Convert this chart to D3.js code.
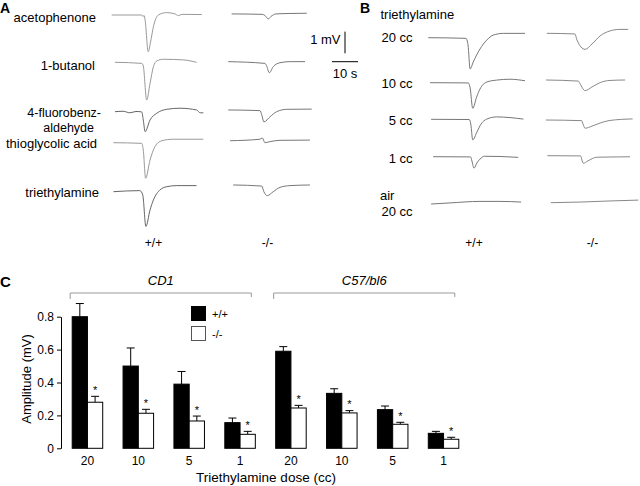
<!DOCTYPE html>
<html><head><meta charset="utf-8">
<script src="https://cdn.jsdelivr.net/npm/d3@7"></script>
<style>
body{margin:0;background:#fff}
svg{display:block}
text{font-family:"Liberation Sans",Arial,Helvetica,sans-serif;fill:#000}
</style>
</head><body>
<svg id="c" width="640" height="486"></svg>
<script>
// ---------------- DATA ----------------
// Panel A: odorant responses (time in s, amplitude in mV relative to baseline)
const odorantsA = ["acetophenone", "1-butanol", "4-fluorobenz-|aldehyde", "thioglycolic acid", "triethylamine"];
const tracesA_WT = [
  [[0.65,0],[12.2,0],[12.6,-0.07],[13.1,-0.02],[13.5,-0.23],[14.7,-1.69],[15.6,-1.24],[16.7,-0.54],[18.6,0],[21.8,0.11],[25,0.05],[26.3,-0.03],[27.6,0.03],[35.3,0.02]],
  [[1.9,0],[12.2,-0.05],[12.8,-0.17],[14.1,-1.74],[15.4,-0.97],[16.7,-0.2],[18,0.06],[20.5,0.14],[28.2,0.11],[33.3,0]],
  [[1.9,0],[5,0.02],[7.7,-0.05],[10,0.01],[12.2,-0.01],[12.8,-0.38],[13.5,-0.92],[15.4,-0.38],[18,-0.07],[21.8,0.11],[26.9,0.16],[33.3,0.08],[34.7,-0.05],[35.9,-0.05]],
  [[1.3,0],[12.2,-0.03],[12.8,-0.34],[13.7,-1.64],[15.4,-0.8],[17.3,-0.18],[19.9,0.09],[24.3,0.16],[35.9,0.16]],
  [[1.3,0],[11.5,0.05],[12.6,-0.15],[13.8,-1.6],[15.4,-0.84],[16.7,-0.38],[19.2,0.08],[21.8,0.23],[25.7,0.28],[33.3,0.28]]
];
const tracesA_KO = [
  [[1.4,0.05],[13.1,0.03],[14.2,-0.02],[15.5,-0.18],[16.5,-0.07],[18.5,0.05],[23.8,0.07],[30.3,0.08]],
  [[0.1,0.03],[14.2,-0.05],[14.8,-0.15],[15.9,-0.48],[17.4,-0.2],[20,-0.02],[23.8,0.03],[29.6,0.03]],
  [[0.1,0.08],[12.3,0.05],[13,-0.15],[13.8,-0.47],[16.2,-0.23],[18.7,0],[22.6,0.11],[32.2,0.12]],
  [[0.8,0.09],[12.3,0.16],[13.2,0.22],[14.2,0],[16.2,0.05],[20,0.11],[31.5,0.12]],
  [[2,0.31],[13,0.26],[13.8,0],[15.1,-0.18],[17.4,0],[20,0.2],[23.8,0.28],[31.5,0.31]]
];
// Panel B: triethylamine dose responses
const dosesB = ["20 cc", "10 cc", "5 cc", "1 cc", "20 cc"];
const tracesB_WT = [
  [[0.1,0],[14.6,-0.03],[15.4,-0.34],[16.2,-1.44],[17.4,-1.12],[18.7,-0.8],[20,-0.52],[22.6,-0.11],[25.1,0.12],[29,0.2],[37.3,0.2]],
  [[0.8,0],[15.5,-0.01],[16.2,-0.24],[17.2,-1.18],[18.7,-0.66],[20,-0.29],[22.6,0.03],[26.4,0.12],[31.5,0.16],[37.3,0.09]],
  [[1.2,0],[15.9,-0.01],[16.5,-0.26],[17.2,-0.95],[18.8,-0.59],[20.4,-0.22],[22.6,0.01],[26.4,0.11],[36.7,0.01]],
  [[2,0],[16.4,-0.01],[16.9,-0.2],[17.7,-0.53],[18.8,-0.29],[20,-0.11],[21.7,0.02],[27.7,0.01],[34.7,-0.03]],
  [[1.2,0],[8.5,0.05],[20,0.12],[27.7,0.12],[35.8,0.09]]
];
const tracesB_KO = [
  [[0.7,0],[11.5,-0.03],[12.3,-0.31],[15.4,-0.74],[18.1,-0.49],[21.2,-0.12],[25,0.11],[28.8,0.18],[32,0.18]],
  [[0.4,0],[12.8,-0.05],[13.5,-0.18],[15.4,-0.49],[18.1,-0.32],[21.2,-0.12],[25,-0.02],[30.8,0]],
  [[0.3,0],[14.1,-0.03],[14.6,-0.18],[15.4,-0.38],[18.1,-0.28],[21.2,-0.14],[25,-0.02],[33.7,0.05]],
  [[0.9,0],[13.7,-0.01],[14.2,-0.2],[14.7,-0.35],[16.5,-0.24],[19.9,-0.07],[25,-0.06],[32.7,-0.05]],
  [[2.2,0],[13.5,0.03],[25,0.08],[35.9,0.12]]
];
const genotypes = ["+/+", "-/-"];
const scaleBarV = 1;   // mV
const scaleBarT = 10;  // s

// Panel C: bar chart
const doses = ["20", "10", "5", "1", "20", "10", "5", "1"];
const strains = ["CD1", "C57/bl6"];
const strainGroups = [[0,3],[4,7]];
const meanWT = [0.80, 0.50, 0.39, 0.156, 0.59, 0.334, 0.235, 0.091];
const semWT  = [0.08, 0.11, 0.077, 0.028, 0.028, 0.028, 0.022, 0.012];
const meanKO = [0.28, 0.213, 0.166, 0.085, 0.245, 0.215, 0.146, 0.055];
const semKO  = [0.036, 0.024, 0.03, 0.018, 0.016, 0.014, 0.012, 0.012];
const significant = [true, true, true, true, true, true, true, true];
const yTicks = [0, 0.2, 0.4, 0.6, 0.8];

// ---------------- DRAW ----------------
const svg = d3.select("#c");

const tScale = d3.scaleLinear().domain([0, 10]).range([0, 26]);
const vScale = d3.scaleLinear().domain([0, 1]).range([0, -21.7]);
const traceLine = d3.line().x(d => tScale(d[0])).y(d => vScale(d[1])).curve(d3.curveMonotoneX);

function drawTrace(data, x0, y0, color) {
  svg.append("path").attr("d", traceLine(data))
    .attr("transform", `translate(${x0},${y0})`)
    .attr("fill", "none").attr("stroke", color).attr("stroke-width", 1);
}

// Panel labels
svg.append("text").attr("x", 0).attr("y", 12.5).attr("font-size", 14).attr("font-weight", "bold").text("A");
svg.append("text").attr("x", 360).attr("y", 12.5).attr("font-size", 14).attr("font-weight", "bold").text("B");
svg.append("text").attr("x", 0).attr("y", 287).attr("font-size", 15).attr("font-weight", "bold").text("C");

// Panel A
const rowYA = [15, 62.3, 111.7, 142.7, 191.7];
const labelLinesX = [[96],[95],[101,94],[97],[99]];
const labelLinesY = [[21.5],[69.5],[117,132],[148],[197]];
const labelSize = [[13],[13],[12.5,12.5],[13],[13]];
odorantsA.forEach((name, i) => {
  name.split("|").forEach((ln, j) => {
    svg.append("text").attr("x", labelLinesX[i][j]).attr("y", labelLinesY[i][j])
      .attr("text-anchor", "end").attr("font-size", labelSize[i][j]).text(ln);
  });
  drawTrace(tracesA_WT[i], 110, rowYA[i], (i === 2 || i === 4) ? "#666" : "#999");
  drawTrace(tracesA_KO[i], 228, rowYA[i], "#777");
});
svg.append("text").attr("x", 153.5).attr("y", 247).attr("text-anchor", "middle").attr("font-size", 12).text(genotypes[0]);
svg.append("text").attr("x", 267.5).attr("y", 247).attr("text-anchor", "middle").attr("font-size", 12).text(genotypes[1]);

// Scale bars
const sbX = 345, sbY = 53.3;
svg.append("line").attr("x1", sbX).attr("x2", sbX).attr("y1", sbY + vScale(scaleBarV)).attr("y2", sbY)
  .attr("stroke", "#000").attr("stroke-width", 1);
svg.append("text").attr("x", 340.5).attr("y", 43.5).attr("text-anchor", "end").attr("font-size", 13).text(scaleBarV + " mV");
const hbX = 332, hbY = 61.7;
svg.append("line").attr("x1", hbX).attr("x2", hbX + tScale(scaleBarT)).attr("y1", hbY).attr("y2", hbY)
  .attr("stroke", "#000").attr("stroke-width", 1);
svg.append("text").attr("x", hbX + tScale(scaleBarT) / 2).attr("y", 77.5).attr("text-anchor", "middle").attr("font-size", 13).text(scaleBarT + " s");

// Panel B
svg.append("text").attr("x", 380.5).attr("y", 18.5).attr("font-size", 13).text("triethylamine");
svg.append("text").attr("x", 380).attr("y", 199.5).attr("font-size", 13).text("air");
const labelYB = [41.7, 87.7, 125, 162.7, 216];
const rowYB_WT = [37.7, 82.7, 119.3, 156.7, 204];
const rowYB_KO = [33.3, 80, 120, 155.7, 202.7];
dosesB.forEach((d, i) => {
  svg.append("text").attr("x", 412.5).attr("y", labelYB[i]).attr("text-anchor", "end").attr("font-size", 13).text(d);
  drawTrace(tracesB_WT[i], 428, rowYB_WT[i], "#777");
  drawTrace(tracesB_KO[i], 545, rowYB_KO[i], "#888");
});
svg.append("text").attr("x", 474).attr("y", 247).attr("text-anchor", "middle").attr("font-size", 12).text(genotypes[0]);
svg.append("text").attr("x", 592.5).attr("y", 247).attr("text-anchor", "middle").attr("font-size", 12).text(genotypes[1]);

// Panel C
const x = d3.scaleBand().domain(d3.range(doses.length)).range([61, 470]).paddingInner(0.4).paddingOuter(0.22);
const xi = d3.scaleBand().domain([0, 1]).range([0, x.bandwidth()]);
const y = d3.scaleLinear().domain([0, 0.8]).range([448.3, 316.7]);

const yAxis = d3.axisLeft(y).tickValues(yTicks)
  .tickFormat(d => d === 0 ? "0" : d3.format(".1f")(d))
  .tickSize(4).tickSizeOuter(0).tickPadding(3);
const ga = svg.append("g").attr("transform", "translate(61,0)").call(yAxis);
ga.selectAll("text").attr("font-size", 12).attr("font-family", '"Liberation Sans",Arial,sans-serif');
ga.selectAll("path,line").attr("stroke", "#000");

svg.append("text").attr("transform", "translate(31,379) rotate(-90)").attr("text-anchor", "middle")
  .attr("font-size", 13).text("Amplitude (mV)");

const series = [
  {mean: meanWT, sem: semWT, fill: "#000"},
  {mean: meanKO, sem: semKO, fill: "#fff"}
];
series.forEach((s, k) => {
  s.mean.forEach((m, i) => {
    const bx = x(i) + xi(k), bw = xi.bandwidth();
    const cx = bx + bw / 2;
    svg.append("line").attr("x1", cx).attr("x2", cx).attr("y1", y(m)).attr("y2", y(m + s.sem[i]))
      .attr("stroke", "#000").attr("stroke-width", 1);
    svg.append("line").attr("x1", cx - 4).attr("x2", cx + 4).attr("y1", y(m + s.sem[i])).attr("y2", y(m + s.sem[i]))
      .attr("stroke", "#000").attr("stroke-width", 1);
    svg.append("rect").attr("x", bx).attr("y", y(m)).attr("width", bw).attr("height", y(0) - y(m))
      .attr("fill", s.fill).attr("stroke", "#000").attr("stroke-width", 1);
    if (k === 1 && significant[i]) {
      svg.append("text").attr("x", cx).attr("y", y(m + s.sem[i]) - 2.5).attr("text-anchor", "middle")
        .attr("font-size", 11).text("*");
    }
  });
});

doses.forEach((d, i) => {
  svg.append("text").attr("x", x(i) + x.bandwidth() / 2).attr("y", 464.5).attr("text-anchor", "middle")
    .attr("font-size", 12).text(d);
});
svg.append("text").attr("x", 266).attr("y", 482).attr("text-anchor", "middle").attr("font-size", 13.5)
  .text("Triethylamine dose (cc)");

strainGroups.forEach((g, si) => {
  const x1 = x(g[0]) - 2, x2 = x(g[1]) + x.bandwidth() - 4, by = 293;
  svg.append("path").attr("d", `M${x1},${by + 6}V${by}H${x2}V${by + 4}`)
    .attr("fill", "none").attr("stroke", "#999").attr("stroke-width", 1);
  svg.append("text").attr("x", (x1 + x2) / 2).attr("y", 285).attr("text-anchor", "middle")
    .attr("font-size", 13).attr("font-style", "italic").text(strains[si]);
});

svg.append("rect").attr("x", 191).attr("y", 306).attr("width", 15).attr("height", 15).attr("fill", "#000");
svg.append("rect").attr("x", 191.5).attr("y", 326.5).attr("width", 14).attr("height", 14)
  .attr("fill", "#fff").attr("stroke", "#555").attr("stroke-width", 1);
svg.append("text").attr("x", 212).attr("y", 317.5).attr("font-size", 11).text(genotypes[0]);
svg.append("text").attr("x", 212).attr("y", 337.5).attr("font-size", 11).text(genotypes[1]);
</script>
</body></html>
